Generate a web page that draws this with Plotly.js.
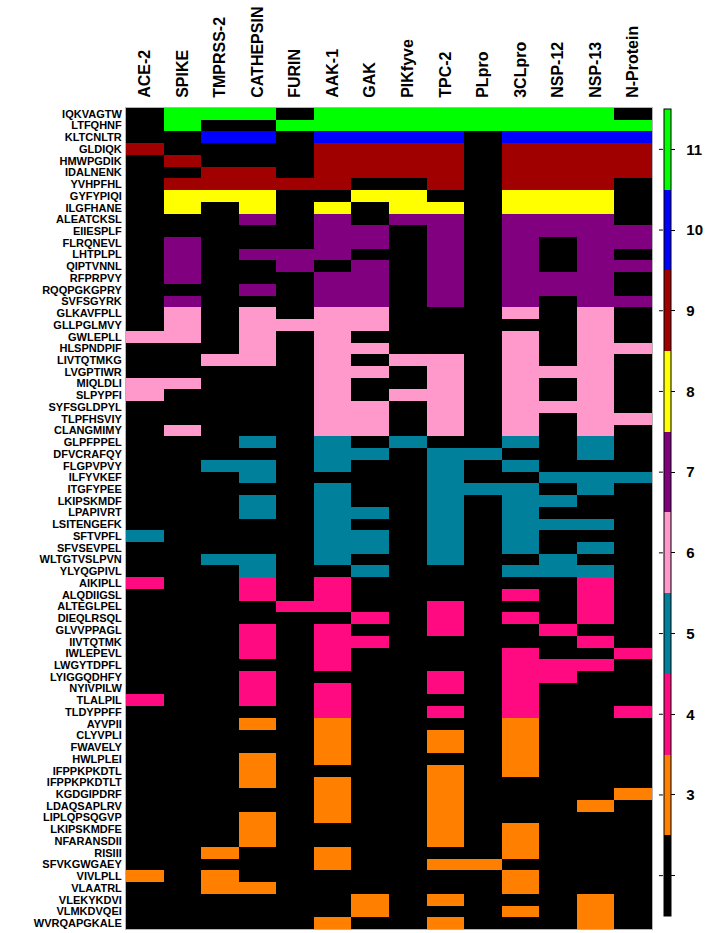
<!DOCTYPE html>
<html>
<head>
<meta charset="utf-8">
<script src="https://cdn.plot.ly/plotly-3.0.1.min.js"></script>
<style>
  html, body { margin: 0; padding: 0; background: #ffffff; }
  #chart { width: 708px; height: 933px; }
</style>
</head>
<body>
<div id="chart"></div>
<script>
// Targets (columns)
const targets = ['ACE-2', 'SPIKE', 'TMPRSS-2', 'CATHEPSIN', 'FURIN', 'AAK-1', 'GAK',
    'PIKfyve', 'TPC-2', 'PLpro', '3CLpro', 'NSP-12', 'NSP-13', 'N-Protein'];

// Peptides (rows, top to bottom)
const peptides = [
    'IQKVAGTW', 'LTFQHNF', 'KLTCNLTR', 'GLDIQK', 'HMWPGDIK', 'IDALNENK', 'YVHPFHL',
    'GYFYPIQI', 'ILGFHANE', 'ALEATCKSL', 'EIIESPLF', 'FLRQNEVL', 'LHTPLPL', 'QIPTVNNL',
    'RFPRPVY', 'RQQPGKGPRY', 'SVFSGYRK', 'GLKAVFPLL', 'GLLPGLMVY', 'GWLEPLL', 'HLSPNDPIF',
    'LIVTQTMKG', 'LVGPTIWR', 'MIQLDLI', 'SLPYPFI', 'SYFSGLDPYL', 'TLPFHSVIY', 'CLANGMIMY',
    'GLPFPPEL', 'DFVCRAFQY', 'FLGPVPVY', 'ILFYVKEF', 'ITGFYPEE', 'LKIPSKMDF', 'LPAPIVRT',
    'LSITENGEFK', 'SFTVPFL', 'SFVSEVPEL', 'WLTGTVSLPVN', 'YLYQGPIVL', 'AIKIPLL', 'ALQDIIGSL',
    'ALTEGLPEL', 'DIEQLRSQL', 'GLVVPPAGL', 'IIVTQTMK', 'IWLEPEVL', 'LWGYTDPFL', 'LYIGGQDHFY',
    'NYIVPILW', 'TLALPIL', 'TLDYPPFF', 'AYVPII', 'CLYVPLI', 'FWAVELY', 'HWLPLEI',
    'IFPPKPKDTL', 'IFPPKPKDTLT', 'KGDGIPDRF', 'LDAQSAPLRV', 'LIPLQPSQGVP', 'LKIPSKMDFE',
    'NFARANSDII', 'RISIII', 'SFVKGWGAEY', 'VIVLPLL', 'VLAATRL', 'VLEKYKDVI', 'VLMKDVQEI',
    'WVRQAPGKALE'
];

// Number of targets hit by each peptide (the row's colour level)
const hitCounts = [
    11, 11, 10, 9, 9, 9, 9, 8, 8,
    7, 7, 7, 7, 7, 7, 7, 7,
    6, 6, 6, 6, 6, 6, 6, 6, 6, 6, 6,
    5, 5, 5, 5, 5, 5, 5, 5, 5, 5, 5, 5,
    4, 4, 4, 4, 4, 4, 4, 4, 4, 4, 4, 4,
    3, 3, 3, 3, 3, 3, 3, 3, 3, 3, 3, 3, 3, 3, 3, 3, 3, 3
];

// Which targets each peptide binds, one char per target column (1 = bound)
const hitMask = [
    '01110111111110', '01001111111111', '00110111101111', '10000111101111',
    '01000111101111', '00110111101111', '01111100101110', '01110011001110',
    '01010101101110', '00010101101110', '00000110101111', '01000110101011',
    '01011100101010', '01001010101011', '01000110101110', '00010110101110',
    '01000110101011', '01010110001010', '01011110000010', '11010100001010',
    '00010110001011', '00110101101010', '00000110101110', '11000100101010',
    '10000101101010', '00000110101110', '00000110101011', '01000110101010',
    '00010101001010', '00000110110010', '00110100101000', '00010000100111',
    '00000100111010', '00010100101100', '00010110101000', '00000100101110',
    '10000110101000', '00000110101010', '00110100100100', '00010010001110',
    '10010100000010', '00010100001010', '00001100100010', '00000010101010',
    '00010100100100', '00010110000010', '00010100001001', '00000100001110',
    '00010000101100', '00010100101000', '10010100001000', '00000100101001',
    '00010100001000', '00000100101000', '00000100101000', '00010100001000',
    '00010000101000', '00010100100000', '00000100100001', '00000100100010',
    '00010100100000', '00010000101000', '00010000101000', '00100100001000',
    '00000100110000', '10100000001000', '00110000001000', '00000010100010',
    '00000010001010', '00000100100010'
];

// Colour bar levels, bottom to top
const levelColors = ['#000000', '#ff8000', '#ff0a80', '#00809b', '#ff99cc',
    '#800080', '#ffff00', '#a00000', '#0000ff', '#00ff00'];
const levelTicks = [2, 3, 4, 5, 6, 7, 8, 9, 10, 11];
const levelTickText = ['', '3', '4', '5', '6', '7', '8', '9', '10', '11'];

// Build z matrix: cell gets the row's level when bound, else 0 (shown black)
const z = hitMask.map((mask, i) =>
    mask.split('').map(ch => ch === '1' ? hitCounts[i] : 0));

// Stepped colour scale, one band per level
const nLevels = levelColors.length;
const colorscale = [];
levelColors.forEach((c, i) => {
    colorscale.push([i / nLevels, c]);
    colorscale.push([(i + 1) / nLevels, c]);
});

const FONT = 'Liberation Sans, Arial, sans-serif';
const zMin = levelTicks[0] - 0.5;
const zMax = levelTicks[levelTicks.length - 1] + 0.5;

// Page geometry (pixels)
const W = 708, H = 933;
const plotL = 126, plotR = 655, plotT = 108, plotB = 929;
const barX = 667, barTop = 109, barBottom = 916, barThick = 7;

const trace = {
    type: 'heatmap',
    x: targets,
    y: peptides,
    z: z,
    zmin: zMin,
    zmax: zMax,
    colorscale: colorscale,
    colorbar: {
        x: (barX - plotL) / (plotR - plotL),
        xanchor: 'left',
        xpad: 0,
        y: (plotB - barTop) / (plotB - plotT),
        yanchor: 'top',
        ypad: 0,
        len: barBottom - barTop,
        lenmode: 'pixels',
        thickness: barThick,
        thicknessmode: 'pixels',
        outlinewidth: 1,
        outlinecolor: '#000000',
        tickmode: 'array',
        tickvals: levelTicks,
        // pad labels away from the bar a little
        ticktext: levelTickText.map(t => t ? '\u00a0\u00a0' + t : t),
        ticks: 'outside',
        ticklen: 4,
        tickwidth: 1,
        tickcolor: '#000000',
        tickfont: { family: FONT, size: 15, color: '#000000', weight: 'bold' }
    }
};

// Small ticks on the left side of the colour bar too
const barShapes = levelTicks.map(v => {
    const py = barBottom - (v - zMin) / (zMax - zMin) * (barBottom - barTop);
    const fy = (plotB - py) / (plotB - plotT);
    const fx0 = (barX - 5 - plotL) / (plotR - plotL);
    const fx1 = (barX - 1 - plotL) / (plotR - plotL);
    return {
        type: 'line', xref: 'paper', yref: 'paper',
        x0: fx0, x1: fx1, y0: fy, y1: fy,
        line: { color: '#000000', width: 1 }
    };
});

const layout = {
    width: W,
    height: H,
    paper_bgcolor: '#ffffff',
    plot_bgcolor: '#000000',
    margin: { l: plotL, r: W - plotR, t: plotT, b: H - plotB, pad: 0 },
    font: { family: FONT, color: '#000000' },
    xaxis: {
        type: 'category',
        side: 'top',
        tickangle: -90,
        ticks: '',
        tickmode: 'linear',
        tick0: 0,
        dtick: 1,
        ticklabelstandoff: 6,
        tickfont: { family: FONT, size: 16, color: '#000000', weight: 'bold' },
        showgrid: false,
        zeroline: false,
        showline: true,
        mirror: true,
        linecolor: '#b4b4b4',
        linewidth: 1,
        fixedrange: true
    },
    yaxis: {
        type: 'category',
        autorange: 'reversed',
        ticks: '',
        tickmode: 'linear',
        tick0: 0,
        dtick: 1,
        ticklabelstandoff: 1,
        tickfont: { family: FONT, size: 11, color: '#000000', weight: 'bold' },
        showgrid: false,
        zeroline: false,
        showline: true,
        mirror: true,
        linecolor: '#b4b4b4',
        linewidth: 1,
        fixedrange: true
    },
    shapes: barShapes,
    showlegend: false
};

Plotly.newPlot('chart', [trace], layout, { displayModeBar: false, staticPlot: true });
</script>
</body>
</html>
